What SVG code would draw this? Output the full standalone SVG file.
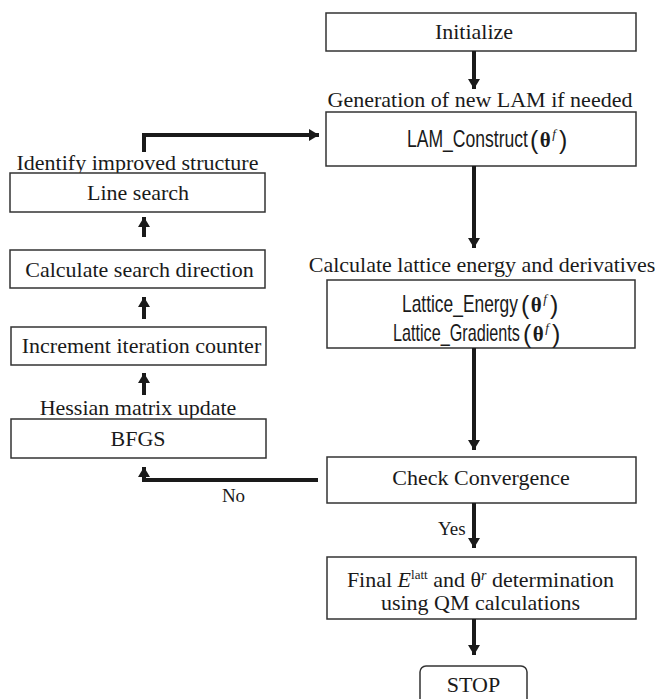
<svg xmlns="http://www.w3.org/2000/svg" width="655" height="699" viewBox="0 0 655 699">
  <defs>
    <marker id="head" markerUnits="userSpaceOnUse" markerWidth="14" markerHeight="14" viewBox="0 0 14 14" refX="10" refY="7" orient="auto">
      <path d="M0,1 L10,7 L0,13 Z" fill="#1a1a1a"/>
    </marker>
    <style>
      .box { fill: #ffffff; stroke: #333333; stroke-width: 1.5; }
      .serif { font-family: "Liberation Serif", "Times New Roman", serif; font-size: 22px; fill: #1a1a1a; }
      .small { font-size: 19px; }
      .sans { font-family: "Liberation Sans", Arial, sans-serif; font-size: 23px; fill: #1a1a1a; }
      .arg { font-family: "Liberation Sans", Arial, sans-serif; font-size: 25px; fill: #1a1a1a; }
      .theta { font-family: "Liberation Serif", "Times New Roman", serif; font-weight: bold; font-size: 21px; }
      .sup { font-family: "Liberation Serif", "Times New Roman", serif; font-style: italic; font-size: 13px; }
      .mid { text-anchor: middle; }
      .conn { fill: none; stroke: #1a1a1a; stroke-width: 4; marker-end: url(#head); }
    </style>
  </defs>

  <!-- right column: main optimisation flow -->
  <g id="initialize">
    <rect class="box" x="326" y="13" width="310" height="38"/>
    <text class="serif mid" x="474" y="39">Initialize</text>
  </g>

  <!-- function names are set in a condensed sans face -->
  <g id="lam-construct">
    <text class="serif mid" x="480" y="107">Generation of new LAM if needed</text>
    <rect class="box" x="326" y="112" width="310" height="54"/>
    <text class="sans" transform="translate(407,147) scale(0.76,1)" x="0" y="0" textLength="159.2" lengthAdjust="spacingAndGlyphs">LAM_Construct</text>
    <text class="arg" x="530" y="149">(<tspan class="theta" dx="1.5" dy="-2">θ</tspan><tspan class="sup" dx="1.5" dy="-9">f</tspan><tspan dx="3" dy="11">)</tspan></text>
  </g>

  <g id="lattice-energy">
    <text class="serif mid" x="482" y="272">Calculate lattice energy and derivatives</text>
    <rect class="box" x="327" y="280" width="308" height="68"/>
    <text class="sans" transform="translate(402,312) scale(0.76,1)" x="0" y="0" textLength="152.6" lengthAdjust="spacingAndGlyphs">Lattice_Energy</text>
    <text class="arg" x="521" y="314">(<tspan class="theta" dx="1.5" dy="-2">θ</tspan><tspan class="sup" dx="1.5" dy="-9">f</tspan><tspan dx="3" dy="11">)</tspan></text>
    <text class="sans" transform="translate(393,341) scale(0.70,1)" x="0" y="0" textLength="181.4" lengthAdjust="spacingAndGlyphs">Lattice_Gradients</text>
    <text class="arg" x="523" y="343">(<tspan class="theta" dx="1.5" dy="-2">θ</tspan><tspan class="sup" dx="1.5" dy="-9">f</tspan><tspan dx="3" dy="11">)</tspan></text>
  </g>

  <g id="check-convergence">
    <rect class="box" x="327" y="457" width="309" height="46"/>
    <text class="serif mid" x="481" y="485">Check Convergence</text>
  </g>

  <g id="final-qm">
    <rect class="box" x="327" y="557" width="309" height="62"/>
    <text class="serif mid" x="480.5" y="587">Final <tspan font-style="italic">E</tspan><tspan font-size="13" dy="-8">latt</tspan><tspan dy="8"> and θ</tspan><tspan font-size="14" font-style="italic" dy="-7">r</tspan><tspan dy="7"> determination</tspan></text>
    <text class="serif mid" x="480.5" y="610">using QM calculations</text>
  </g>

  <g id="stop">
    <rect class="box" x="420" y="666" width="107" height="50" rx="6"/>
    <text class="serif mid" x="473.5" y="692" font-size="21">STOP</text>
  </g>

  <!-- left column: quasi-Newton step -->
  <g id="line-search">
    <text class="serif mid" x="137.5" y="170">Identify improved structure</text>
    <rect class="box" x="10" y="173" width="255" height="39"/>
    <text class="serif mid" x="138" y="200">Line search</text>
  </g>

  <g id="search-direction">
    <rect class="box" x="10" y="250" width="255" height="38"/>
    <text class="serif mid" x="139.5" y="277">Calculate search direction</text>
  </g>

  <g id="increment-counter">
    <rect class="box" x="11" y="327" width="255" height="38"/>
    <text class="serif mid" x="141.5" y="353">Increment iteration counter</text>
  </g>

  <g id="bfgs">
    <text class="serif mid" x="138" y="415">Hessian matrix update</text>
    <rect class="box" x="11" y="419" width="255" height="39"/>
    <text class="serif mid" x="138" y="446">BFGS</text>
  </g>

  <!-- connectors -->
  <g id="connectors">
    <path class="conn" d="M474,51 V89"/>
    <path class="conn" d="M474,166 V248"/>
    <path class="conn" d="M474,348 V450"/>
    <path class="conn" d="M474,503 V548"/>
    <path class="conn" d="M474,619 V655"/>
    <path class="conn" d="M318,480 H144 V467"/>
    <path class="conn" d="M144,395 V373"/>
    <path class="conn" d="M144,319 V297"/>
    <path class="conn" d="M144,237 V217"/>
    <path class="conn" d="M144,152 V135 H319"/>
    <text class="serif small" x="438" y="535">Yes</text>
    <text class="serif small mid" x="233.5" y="502">No</text>
  </g>
</svg>
